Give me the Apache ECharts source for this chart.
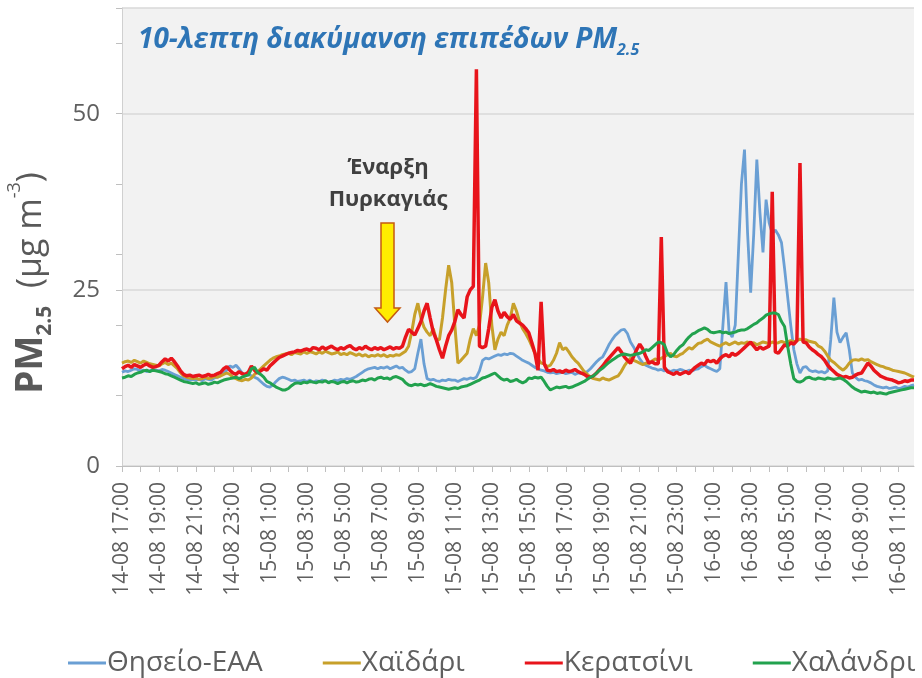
<!DOCTYPE html>
<html>
<head>
<meta charset="utf-8">
<script src="https://cdn.jsdelivr.net/npm/echarts@6/dist/echarts.min.js"></script>
<style>html,body{margin:0;padding:0;background:#fff;}#c{width:922px;height:678px;}</style>
</head>
<body>
<div id="c"></div>
<script>
// 10-minute values, 14-08 17:00 .. 16-08 11:50
const seriesNames = ['Θησείο-ΕΑΑ', 'Χαϊδάρι', 'Κερατσίνι', 'Χαλάνδρι'];
const thiseio = [
13.3,13.5,13.4,13.6,13.8,13.7,13.5,13.6,13.4,13.5,13.7,13.6,
13.5,13.7,13.6,13.4,13.2,13.0,12.8,12.6,12.4,12.3,12.2,12.3,
12.2,12.3,12.1,12.4,12.3,12.2,12.5,12.6,12.8,13.2,13.6,14.2,
14.0,14.3,13.8,13.2,12.9,13.0,12.8,12.6,12.4,12.0,11.6,11.3,
11.2,11.5,12.0,12.4,12.6,12.5,12.3,12.1,12.2,12.0,12.1,12.2,
12.0,12.2,11.9,12.1,12.0,12.2,12.1,11.9,12.0,12.2,12.1,12.3,
12.2,12.4,12.3,12.5,12.7,13.0,13.3,13.6,13.8,13.9,14.0,13.8,
14.0,13.9,14.1,13.8,14.0,14.2,13.9,14.0,13.6,13.3,13.4,13.8,
16.0,18.0,14.5,12.4,12.2,12.3,12.1,12.0,12.2,12.1,12.3,12.2,
12.2,12.0,12.2,12.4,12.3,12.5,12.4,12.6,13.5,15.0,15.3,15.2,
15.4,15.6,15.8,15.7,15.9,15.8,16.0,15.9,15.6,15.3,15.0,14.8,
14.6,14.3,14.0,13.8,13.6,13.5,13.3,13.2,13.3,13.1,13.2,13.3,
13.1,13.2,13.3,13.0,13.2,13.1,13.3,13.4,13.8,14.3,14.8,15.2,
15.5,16.3,17.2,17.9,18.5,18.9,19.3,19.4,18.8,17.6,16.9,16.0,
15.2,14.6,14.3,14.1,13.9,13.8,13.6,13.7,13.5,13.6,13.4,13.6,
13.5,13.7,13.6,13.4,13.6,13.5,13.7,13.8,14.1,14.3,14.0,13.8,
13.6,13.4,13.8,20.0,26.1,19.0,18.3,20.0,30.0,40.0,44.9,33.0,
24.6,33.0,43.5,36.0,30.3,37.8,34.5,33.0,33.5,32.8,31.7,28.0,
24.0,20.0,16.5,14.5,13.2,14.0,14.1,13.6,13.4,13.5,13.3,13.4,
13.2,13.5,18.0,23.9,19.0,17.5,18.3,18.9,16.5,13.2,12.6,12.2,
12.3,12.1,12.0,11.8,11.5,11.3,11.2,11.1,11.2,11.0,11.1,11.2,
11.0,11.1,11.3,11.2,11.4,11.5];
const chaidari = [
14.6,14.8,14.9,14.7,15.0,14.8,14.6,14.9,14.7,14.5,14.4,14.3,
14.2,14.5,14.7,14.4,14.6,14.2,13.8,13.2,12.8,12.6,12.5,12.4,
12.5,12.3,12.4,12.6,12.4,12.5,12.7,12.6,12.8,13.0,13.2,13.0,
12.6,12.4,12.2,12.1,12.3,12.2,12.5,13.0,13.4,13.8,14.2,14.6,
15.0,15.3,15.5,15.6,15.8,15.9,16.0,15.8,16.1,16.0,15.9,16.2,
16.0,16.2,16.1,15.9,16.2,16.0,16.3,16.1,15.9,16.0,16.2,15.8,
16.0,15.8,16.1,15.9,15.7,15.9,15.6,15.8,15.5,15.7,15.6,15.8,
15.6,15.8,15.5,15.7,15.6,15.8,15.7,16.0,16.3,17.0,19.0,21.5,
23.1,21.0,19.7,19.0,18.5,19.5,18.0,17.9,21.0,25.0,28.5,26.0,
20.0,14.6,15.0,15.5,16.0,18.0,19.5,18.5,20.0,24.0,28.8,26.0,
20.0,16.5,18.0,19.0,18.5,20.0,21.0,23.1,22.0,20.5,19.5,18.8,
18.0,17.0,16.0,15.2,14.6,14.5,14.1,14.3,15.0,16.0,17.5,16.5,
16.8,16.2,15.5,15.0,14.6,14.0,13.4,13.0,12.6,12.4,12.3,12.2,
12.5,12.3,12.2,12.4,12.6,12.8,13.4,14.2,14.8,15.3,15.0,14.8,
14.6,14.4,14.6,14.6,14.9,15.2,15.0,15.3,15.5,15.8,16.0,15.6,
15.5,15.8,16.0,16.4,16.8,16.6,17.0,17.4,17.5,17.8,18.0,17.6,
17.4,17.2,17.0,17.3,17.5,17.2,17.4,17.6,17.3,17.5,17.4,17.6,
17.3,17.5,17.2,17.4,17.6,17.5,17.3,17.6,17.4,17.5,17.7,17.5,
17.6,17.8,17.6,17.8,18.0,17.9,17.9,17.7,17.6,17.5,17.0,16.8,
16.3,15.6,15.0,14.7,14.3,13.9,13.6,14.0,14.6,15.0,15.1,15.0,
15.2,15.0,15.1,14.8,14.6,14.4,14.2,14.1,13.9,13.8,13.6,13.5,
13.4,13.3,13.2,13.0,12.8,12.6];
const keratsini = [
13.8,14.1,14.3,14.0,14.4,14.2,14.0,14.3,14.5,14.2,14.0,14.1,
14.3,14.8,15.2,14.9,15.3,14.8,14.2,13.5,13.0,12.8,12.9,12.7,
12.8,12.9,12.7,12.8,13.0,12.8,12.9,13.1,13.3,13.8,14.1,13.6,
13.2,13.0,13.4,13.1,13.0,13.3,14.2,13.6,13.2,13.5,13.8,13.6,
14.2,14.6,15.0,15.4,15.6,15.8,16.0,16.1,16.2,16.4,16.3,16.5,
16.6,16.4,16.8,16.7,16.5,16.9,16.6,16.8,17.0,16.7,16.5,16.8,
16.6,16.9,17.1,16.7,16.5,16.8,16.6,17.0,16.7,16.5,16.8,16.6,
16.8,16.5,16.7,16.9,16.6,16.8,16.7,17.0,18.3,19.4,19.0,18.6,
19.5,20.5,22.0,23.1,21.0,19.0,17.9,16.5,15.3,17.0,18.5,19.3,
20.5,22.2,21.5,21.0,24.0,25.0,25.5,56.3,17.0,16.8,17.0,19.5,
22.5,23.6,22.0,21.0,21.8,21.2,20.8,21.5,20.6,20.3,20.0,19.5,
18.9,17.5,16.0,13.6,23.3,14.5,13.6,13.5,13.7,13.4,13.5,13.3,
13.6,13.4,13.5,13.7,13.4,13.2,13.0,12.7,12.6,12.8,13.2,13.7,
14.2,14.8,15.3,15.8,16.3,16.8,16.2,15.5,15.0,14.6,15.5,16.5,
17.3,16.6,15.5,14.6,14.8,14.5,14.5,32.5,14.0,13.4,13.2,13.0,
13.3,13.0,13.2,13.4,13.1,13.6,14.0,14.3,14.6,14.4,15.0,14.8,
15.0,14.6,15.2,15.6,15.8,15.5,16.0,15.7,16.0,16.4,16.8,17.2,
17.6,17.0,16.5,16.9,16.6,16.8,17.0,38.9,16.2,16.0,16.6,17.2,
17.0,17.5,17.3,17.8,43.0,17.6,17.5,16.9,16.5,16.2,15.8,15.5,
15.0,14.3,13.8,13.4,13.0,12.8,12.6,12.7,12.5,12.6,12.9,13.1,
13.2,13.9,14.6,14.2,13.6,13.2,12.8,12.6,12.4,12.3,12.2,12.0,
11.8,11.9,12.1,12.0,12.2,12.2];
const chalandri = [
12.5,12.6,12.8,12.7,13.0,13.2,13.3,13.5,13.6,13.4,13.6,13.5,
13.4,13.3,13.1,13.0,12.8,12.6,12.4,12.2,12.0,11.9,11.8,11.7,
11.8,11.6,11.7,11.8,11.6,11.7,11.9,11.8,12.0,12.2,12.3,12.4,
12.5,12.6,12.4,12.6,12.8,12.9,13.8,14.0,13.3,13.0,12.6,12.0,
11.8,11.5,11.2,11.0,10.8,10.8,11.0,11.4,11.7,11.8,11.7,11.9,
11.8,12.0,11.9,11.8,12.0,11.9,12.1,11.8,12.0,11.9,11.7,11.9,
12.0,11.8,12.0,12.1,11.9,12.0,12.2,12.1,12.3,12.4,12.2,12.5,
12.6,12.4,12.5,12.3,12.6,12.7,12.5,12.3,11.8,11.5,11.4,11.6,
11.5,11.6,11.4,11.5,11.7,11.5,11.3,11.2,11.1,11.0,10.9,11.0,
11.1,11.0,11.2,11.3,11.4,11.6,11.8,12.0,12.2,12.5,12.6,12.8,
13.0,13.2,12.8,12.4,12.2,12.3,12.0,12.1,12.3,12.0,11.8,12.0,
12.5,12.4,12.6,12.5,12.6,12.0,11.3,10.8,11.0,11.2,11.1,11.2,
11.3,11.1,11.2,11.4,11.6,11.8,12.0,12.3,12.6,12.8,13.2,13.6,
13.9,14.3,14.7,15.0,15.3,15.6,15.8,15.9,15.8,15.7,15.8,15.9,
16.0,16.2,16.5,16.4,16.8,17.2,17.6,17.5,17.2,16.0,15.5,15.8,
16.4,16.9,17.2,17.8,18.3,18.7,18.9,19.2,19.4,19.6,19.4,19.0,
18.9,19.0,19.1,18.9,19.0,18.8,18.9,19.0,19.2,19.3,19.3,19.5,
19.8,20.1,20.3,20.7,21.0,21.4,21.6,21.7,21.7,21.5,20.5,19.8,
17.0,14.5,12.4,12.0,11.9,12.1,12.5,12.6,12.4,12.3,12.5,12.4,
12.3,12.5,12.4,12.3,12.4,12.5,12.3,12.0,11.6,11.2,10.9,10.7,
10.5,10.6,10.5,10.4,10.5,10.3,10.4,10.3,10.2,10.4,10.5,10.6,
10.7,10.8,10.9,11.0,11.1,11.1];

// category labels: every 10 minutes from 14-08 17:00
const startDay = 14, startMinutes = 17 * 60, stepMinutes = 10;
const categories = thiseio.map((_, i) => {
  const t = startMinutes + i * stepMinutes;
  const d = startDay + Math.floor(t / 1440);
  const h = Math.floor((t % 1440) / 60);
  const m = t % 60;
  return d + '-08 ' + h + ':' + (m < 10 ? '0' : '') + m;
});
const yLabelValues = [0, 25, 50];

const colors = ['#6a9fd4', '#c7a02a', '#e8141b', '#22a24e'];
const widths = [2.8, 3, 3.5, 3];
const values = [thiseio, chaidari, keratsini, chalandri];
const FONT = '"Open Sans", sans-serif';

const chart = echarts.init(document.getElementById('c'), null, {renderer: 'canvas'});
chart.setOption({
  animation: false,
  backgroundColor: '#ffffff',
  color: colors,
  grid: {left: 122, right: 8, top: 8, bottom: 212, show: true, backgroundColor: '#f2f2f2', borderWidth: 0},
  xAxis: {
    type: 'category', data: categories, boundaryGap: false,
    axisLine: {lineStyle: {color: '#bfbfbf', width: 1}},
    axisTick: {show: true, interval: (i) => i % 6 === 0, length: 6, lineStyle: {color: '#bfbfbf'}},
    axisLabel: {interval: (i) => i % 12 === 0, rotate: 90, fontSize: 21, color: '#5f5f5f', fontFamily: FONT, margin: 16},
    splitLine: {show: false}
  },
  yAxis: [
    {type: 'value', min: 0, max: 65, interval: 25,
     axisLine: {show: true, lineStyle: {color: '#d0d0d0'}},
     axisTick: {show: true, length: 6, lineStyle: {color: '#bfbfbf'}},
     axisLabel: {fontSize: 24, color: '#5f5f5f', fontFamily: FONT, margin: 22,
       formatter: (v) => yLabelValues.indexOf(v) >= 0 ? String(v) : ''},
     splitLine: {show: true, lineStyle: {color: '#d8d8d8', width: 1.5}}},
    {type: 'value', min: 0, max: 65, interval: 10, position: 'left',
     axisLine: {show: false}, axisLabel: {show: false}, splitLine: {show: false},
     axisTick: {show: true, length: 6, lineStyle: {color: '#bfbfbf'}}}
  ],
  legend: {
    left: 63, top: 644, icon: 'rect', itemWidth: 38, itemHeight: 3, itemGap: 60,
    textStyle: {fontSize: 28, color: '#5f5f5f', fontFamily: FONT, padding: [0, 0, 0, -4]},
    data: seriesNames
  },
  series: seriesNames.map((n, k) => ({
    name: n, type: 'line', data: values[k], symbol: 'none', smooth: false,
    yAxisIndex: 0,
    lineStyle: {width: widths[k], color: colors[k]}, itemStyle: {color: colors[k]},
    z: 2 + k
  })),
  graphic: [
    {type: 'text', left: 138, top: 26, z: 10,
     style: {text: '{a|10-λεπτη διακύμανση επιπέδων PM}{b|2.5}',
       rich: {
         a: {fontSize: 28, fontWeight: 'bold', fontStyle: 'italic', fill: '#2e75b6', fontFamily: FONT, lineHeight: 36, verticalAlign: 'middle'},
         b: {fontSize: 16, fontWeight: 'bold', fontStyle: 'italic', fill: '#2e75b6', fontFamily: FONT, lineHeight: 36, verticalAlign: 'bottom'}
       }}},
    {type: 'text', x: 31, y: 283, rotation: Math.PI / 2, z: 10,
     style: {text: '{pm|PM}{sub|2.5}{u|  (μg m}{sup|-3}{u|)}', align: 'center', verticalAlign: 'middle',
       rich: {
         pm: {fontSize: 37, fontWeight: 'bold', fill: '#595959', fontFamily: FONT, lineHeight: 50, verticalAlign: 'middle'},
         sub: {fontSize: 21, fontWeight: 'bold', fill: '#595959', fontFamily: FONT, lineHeight: 50, verticalAlign: 'bottom'},
         u: {fontSize: 34, fill: '#595959', fontFamily: FONT, lineHeight: 50, verticalAlign: 'middle'},
         sup: {fontSize: 18, fill: '#595959', fontFamily: FONT, lineHeight: 42, verticalAlign: 'top'}
       }}},
    {type: 'text', x: 388, y: 184, z: 10,
     style: {text: 'Έναρξη\nΠυρκαγιάς', align: 'center', verticalAlign: 'middle', fontSize: 22, fontWeight: 'bold',
       fontFamily: FONT, lineHeight: 32, fill: '#404040'}},
    {type: 'polygon', z: 10,
     shape: {points: [[381, 223], [394, 223], [394, 308], [400, 308], [387.5, 322], [375, 308], [381, 308]]},
     style: {fill: '#ffec00', stroke: '#c55a11', lineWidth: 1.5}}
  ]
});
</script>
</body>
</html>
